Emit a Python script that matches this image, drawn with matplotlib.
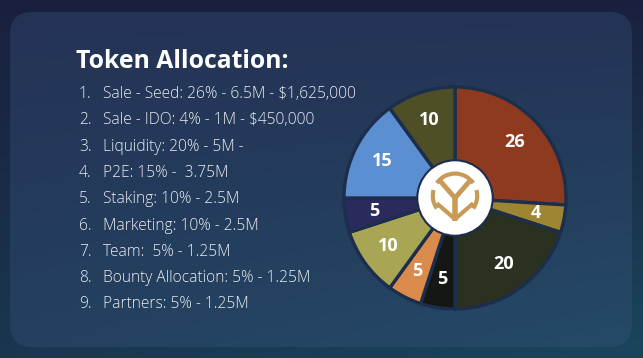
import numpy as np
import matplotlib.pyplot as plt
from matplotlib.patches import FancyBboxPatch, Circle, Arc

# slice values, clockwise from 12 o'clock
values = [26, 4, 20, 5, 5, 10, 5, 15, 10]
colors = ['#8e3a1f', '#9e8532', '#2b3121', '#141714', '#da8b4b',
          '#a8a555', '#2a2b5c', '#5c8fd2', '#4e4e27']

title = 'Token Allocation:'
items = [
    'Sale - Seed: 26% - 6.5M - $1,625,000',
    'Sale - IDO: 4% - 1M - $450,000',
    'Liquidity: 20% - 5M -',
    'P2E: 15% -  3.75M',
    'Staking: 10% - 2.5M',
    'Marketing: 10% - 2.5M',
    'Team:  5% - 1.25M',
    'Bounty Allocation: 5% - 1.25M',
    'Partners: 5% - 1.25M',
]

W, H = 643, 358
fig = plt.figure(figsize=(W / 100, H / 100), dpi=100)

# background gradient
bg = fig.add_axes([0, 0, 1, 1])
bg.set_axis_off()
yy, xx = np.mgrid[0:1:200j, 0:1:360j]
top = np.array([0x19, 0x20, 0x3e]) / 255
bot = np.array([0x1a, 0x46, 0x5b]) / 255
t = np.clip(0.6 * yy + 0.4 * xx * yy, 0, 1)[..., None]
img = top * (1 - t) + bot * t
bg.imshow(img, extent=[0, 1, 0, 1], aspect='auto', origin='upper')
bg.set_xlim(0, 1)
bg.set_ylim(0, 1)

# rounded panel
panel = FancyBboxPatch((10 / W, 11 / H), 622 / W, 335 / H,
                       boxstyle='round,pad=0,rounding_size=0.035',
                       transform=bg.transAxes, mutation_aspect=W / H,
                       facecolor='#3a5580', alpha=0.35, edgecolor='none')
bg.add_patch(panel)

# text
fig.text(76 / W, 1 - 62 / H, title, fontsize=17.8, fontweight='bold',
         color='white', family='Open Sans', va='center', ha='left')
y0 = 94
for i, s in enumerate(items):
    y = 1 - (y0 + i * 26.3) / H
    fig.text(79 / W, y, f'{i + 1}.', fontsize=11.2, color='#eceff4',
             family='Open Sans', fontweight='light', va='center', ha='left')
    fig.text(103 / W, y, s, fontsize=11.2, color='#eceff4',
             family='Open Sans', fontweight='light', va='center', ha='left')

# pie
cx, cy, r = 455, 198, 111
ax = fig.add_axes([(cx - r) / W, (H - cy - r) / H, 2 * r / W, 2 * r / H])
wedges, texts = ax.pie(values, colors=colors, startangle=90, counterclock=False,
                       labels=[str(v) for v in values], labeldistance=0.74,
                       wedgeprops=dict(edgecolor='#1c2e4c', linewidth=2.4))
for tx in texts:
    tx.set_color('white')
    tx.set_fontsize(13)
    tx.set_fontweight('bold')
    tx.set_family('Open Sans')
    tx.set_ha('center')
    tx.set_va('center')
ax.set_xlim(-1, 1)
ax.set_ylim(-1, 1)
ax.set_aspect('equal')

# center logo
ax.add_patch(Circle((0, 0), 0.34, facecolor='white', edgecolor='#1c2e4c',
                    linewidth=1.5, zorder=5))
gold = '#c79a55'
ax.add_patch(Arc((0, 0.02), 0.4, 0.4, theta1=35, theta2=145, color=gold,
                 linewidth=3, zorder=6))
ax.add_patch(Arc((0, 0.02), 0.4, 0.4, theta1=165, theta2=215, color=gold,
                 linewidth=3, zorder=6))
ax.add_patch(Arc((0, 0.02), 0.4, 0.4, theta1=-35, theta2=15, color=gold,
                 linewidth=3, zorder=6))
ax.plot([-0.13, 0, 0.13], [0.15, 0.0, 0.15], color=gold, lw=3.5, zorder=6,
        solid_capstyle='butt')
ax.plot([0, 0], [0.0, -0.18], color=gold, lw=4, zorder=6)
ax.plot([-0.15, 0, 0.15], [-0.06, -0.19, -0.06], color=gold, lw=3, zorder=6)

fig.savefig('out.png', dpi=100)
